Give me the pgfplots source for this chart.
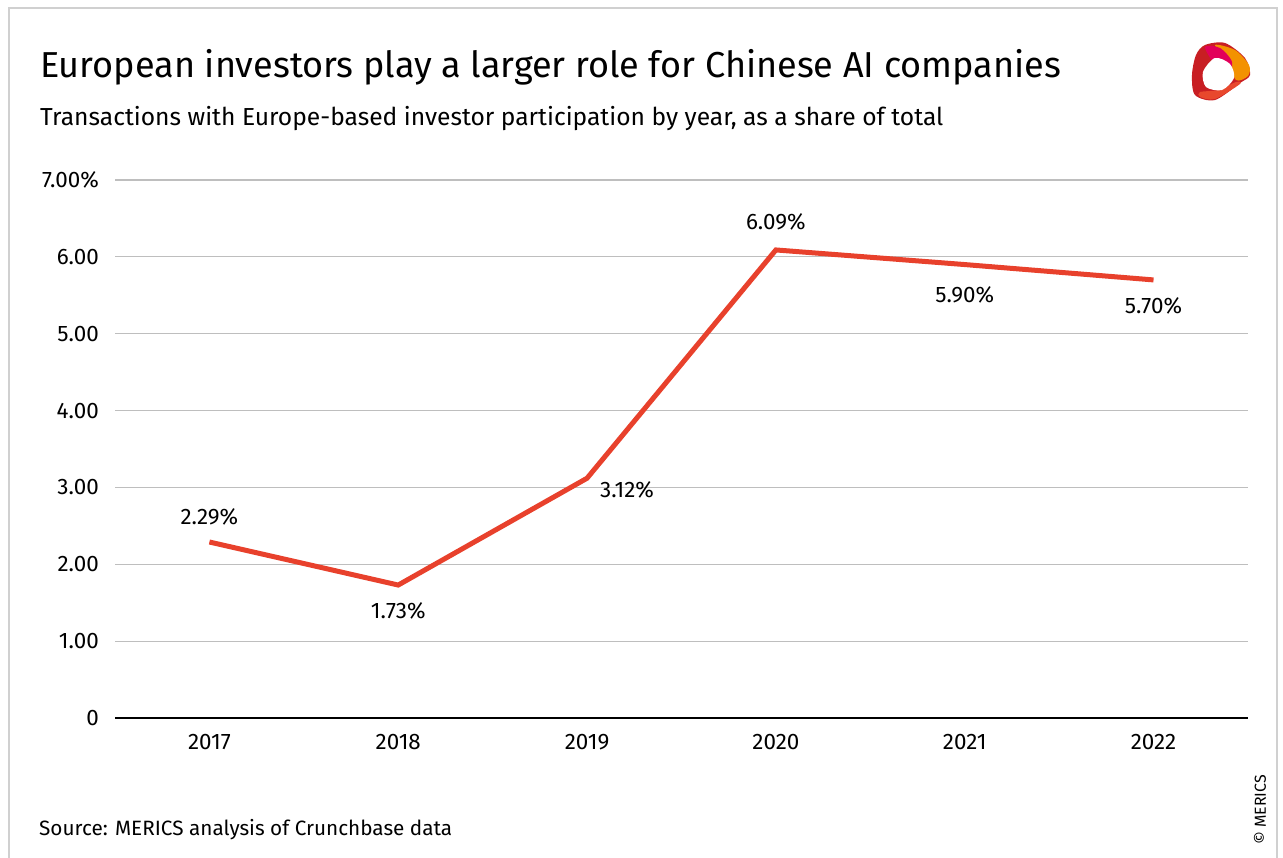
\documentclass[border=0pt]{standalone}
\usepackage{fontspec}
\setmainfont{Fira Sans}
\usepackage{pgfplots}
\pgfplotsset{compat=1.18}
\usepackage{pgfplotstable}

\definecolor{linered}{RGB}{232,65,44}
\definecolor{gridgray}{RGB}{190,190,190}
\definecolor{framegray}{RGB}{208,208,208}
\definecolor{logored}{RGB}{200,30,35}
\definecolor{logolight}{RGB}{232,72,45}
\definecolor{logoorange}{RGB}{243,146,0}
\definecolor{logomagenta}{RGB}{226,0,90}

% year index, share in %, label shift (bp)
\pgfplotstableread{
x  y     dx  dy
0  2.29  0   25
1  1.73  0  -26
2  3.12  40 -12
3  6.09  0   28
4  5.90  0  -30
5  5.70  0  -26
}\sharedata

\begin{document}
\begin{tikzpicture}
\path[use as bounding box] (0,0) rectangle (1283bp,-858bp);

\begin{scope}[x=1bp,y=-1bp]
  % frame (no bottom edge)
  \draw[framegray, line width=2bp] (9,858) -- (9,8) -- (1277,8) -- (1277,858);
  % titles
  \node[anchor=base west, inner sep=0pt, font=\fontsize{36.2}{42}\selectfont] at (40,77)
    {European investors play a larger role for Chinese AI companies};
  \node[anchor=base west, inner sep=0pt, font=\fontsize{24.7}{29}\selectfont] at (40,125)
    {Transactions with Europe-based investor participation by year, as a share of total};
  \node[anchor=base west, inner sep=0pt, font=\fontsize{20.8}{25}\selectfont] at (39,835)
    {Source: MERICS analysis of Crunchbase data};
  \node[rotate=90, inner sep=0pt, font=\fontsize{16}{19}\selectfont] at (1260,810) {© MERICS};
  % logo
  \fill[logored] plot[smooth cycle] coordinates {(1205,45) (1225,43) (1245,58) (1250,75) (1240,83) (1215,100) (1195,95) (1192,75) (1196,55)};
  \fill[logolight] plot[smooth cycle] coordinates {(1200,92) (1218,90) (1236,82) (1240,84) (1215,99) (1200,97)};
  \fill[logoorange] plot[smooth cycle] coordinates {(1215,45) (1235,50) (1249,65) (1248,76) (1236,80) (1228,60)};
  \fill[logomagenta] plot[smooth cycle] coordinates {(1205,47) (1220,48) (1232,62) (1228,78) (1215,65)};
  \fill[white] plot[smooth cycle] coordinates {(1203,72) (1215,58) (1230,64) (1234,78) (1222,90) (1206,87)};
\end{scope}

\begin{axis}[
  at={(115bp,-718bp)}, anchor=south west,
  scale only axis, width=1133bp, height=538bp,
  xmin=-0.5, xmax=5.5, ymin=0, ymax=7,
  axis x line*=bottom, axis y line*=left,
  x axis line style={black, line width=2.5bp},
  y axis line style={draw=none},
  major tick length=0pt,
  xtick={0,...,5},
  xticklabels={2017,2018,2019,2020,2021,2022},
  ytick={0,...,7},
  yticklabels={0,1.00,2.00,3.00,4.00,5.00,6.00,7.00\%},
  ymajorgrids, grid style={gridgray, line width=1.2bp},
  tick label style={font=\fontsize{22.5}{27}\selectfont},
  xticklabel style={anchor=north, inner sep=0pt, yshift=-16bp},
  yticklabel style={anchor=east, inner sep=0pt, xshift=-16bp},
  clip=false,
]
\addplot[linered, line width=5bp, mark=none,
  visualization depends on={\thisrow{dx} \as \dx},
  visualization depends on={\thisrow{dy} \as \dy},
  nodes near coords={\pgfmathprintnumber[fixed, fixed zerofill, precision=2, assume math mode=true]{\pgfplotspointmeta}\%},
  point meta=explicit,
  every node near coord/.append style={black, anchor=center, inner sep=0pt,
    font=\fontsize{22.5}{27}\selectfont, xshift=\dx bp, yshift=\dy bp},
] table[x=x, y=y, meta=y] {\sharedata};
\end{axis}
\end{tikzpicture}
\end{document}
